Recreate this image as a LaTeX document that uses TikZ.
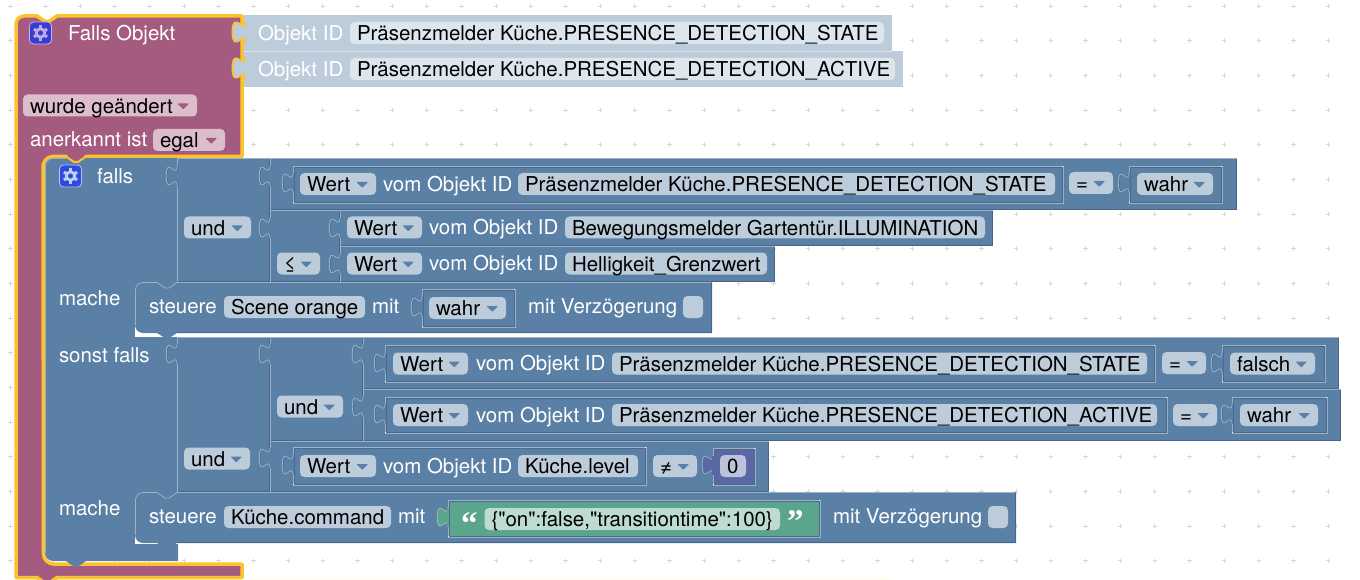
\documentclass[tikz,border=0pt]{standalone}
\usepackage{fontspec}
\usetikzlibrary{calc}
\setmainfont{TeX Gyre Heros}
\newfontfamily\plainhv{TeX Gyre Heros}
\newfontfamily\quotef{Liberation Serif}
\definecolor{bl}{HTML}{5B80A5}
\definecolor{bll}{HTML}{BDCCDB}
\definecolor{bld}{HTML}{49668A}
\definecolor{pur}{HTML}{A55B80}
\definecolor{purf}{HTML}{DBBDCC}
\definecolor{yel}{HTML}{FCC32C}
\definecolor{shf}{HTML}{DEE6ED}
\definecolor{grn}{HTML}{5BA58C}
\definecolor{grnf}{HTML}{BDDBD1}
\definecolor{num}{HTML}{5B67A5}
\definecolor{numf}{HTML}{BDC2DB}
\definecolor{gridc}{HTML}{D8D8D8}
\definecolor{icona}{HTML}{3A3AD4}
\definecolor{iconag}{HTML}{B9AEE6}
\definecolor{iconb}{HTML}{2E4ADF}
\definecolor{iconbg}{HTML}{B9D2F2}
\colorlet{bmid}{bll!65!bl}
\tikzset{
  txt/.style={anchor=base west,inner sep=0pt,outer sep=0pt,font=\fontsize{20.47}{24}\selectfont},
  wtxt/.style={txt,text=white},
  btxt/.style={txt,text=black},
  lightline/.style={draw=bmid,line width=0.9pt},
  darkline/.style={draw=bld,line width=1pt},
}
% tab path from (0,0) to (0,20), bulging left
\newcommand{\tabp}{(0,0) .. controls (0,13.3) and (-10.7,-10.7) .. (-10.7,10) .. controls (-10.7,30.7) and (0,6.7) .. (0,20)}
% outline-only socket
\newcommand{\sock}[2]{%
  \fill[bl] (#1-1.2,#2) rectangle (#1+1.2,#2+20);
  \draw[shift={(#1+0.9,#2)},bld!70!bl,line width=0.7pt] \tabp;
  \draw[shift={(#1,#2)},bmid,line width=0.8pt] \tabp;
}
% plain top-level block
\newcommand{\blk}[4]{%
  \fill[bl] (#1,#2) rectangle (#3,#4);
  \draw[darkline] (#1,#4-0.5) -- (#3-0.5,#4-0.5) -- (#3-0.5,#2);
  \draw[lightline] (#1+0.5,#4) -- (#1+0.5,#2+0.5) -- (#3,#2+0.5);
}
% inset value block
\newcommand{\val}[5]{%
  \fill[#5] (#1,#2) rectangle (#3,#4);
  \draw[bmid,line width=0.8pt] (#1,#2) rectangle (#3,#4);
  \draw[bld!85!bl,line width=0.8pt] (#1+1,#2+1) rectangle (#3-1,#4-1);
  \fill[white] (#3-0.7,#2-0.4) rectangle (#3+0.4,#2+0.7);
  \fill[white] (#1-0.4,#4-0.7) rectangle (#1+0.7,#4+0.4);
}
% field: name,x1,x2,y1,text
\newcommand{\fld}[6][bll]{%
  \fill[#1,rounded corners=4.5pt] (#3,#5) rectangle (#4,#5+22);
  \node[btxt] (#2) at (#3+7,#5+18.6) {#6};
}
% dropdown: fill,arrow colour,name,x1,x2,y1,text
\newcommand{\dd}[7]{%
  \fill[#1,rounded corners=4.5pt] (#4,#6) rectangle (#5,#6+22);
  \fill[#2,rounded corners=0.7pt] (#5-19.5,#6+9) -- (#5-8,#6+9) -- (#5-13.75,#6+15) -- cycle;
  \node[btxt] (#3) at (#4+7,#6+18.6) {#7};
}
\newcommand{\ddb}[5]{\dd{bll}{bl}{#1}{#2}{#3}{#4}{#5}}
\newcommand{\chk}[2]{\fill[bll,rounded corners=4.5pt] (#1,#2) rectangle (#1+20,#2+22);}
% settings icon
\newcommand{\gear}[4]{%
  \fill[#3,rounded corners=4pt,draw=white!65!#3,line width=0.8pt] (#1,#2) rectangle (#1+22,#2+22);
  \draw[#4,line width=2.8pt] (#1+11,#2+11) circle (4.2);
  \foreach \a in {30,90,...,330}{\draw[#4,line width=3pt] ($(#1+11,#2+11)+(\a:5)$) -- ($(#1+11,#2+11)+(\a:7.6)$);}
}
\begin{document}
\begin{tikzpicture}[x=1pt,y=-1pt]
\useasboundingbox (0,0) rectangle (1360,580);
\fill[white] (0,0) rectangle (1360,580);
% workspace grid
\foreach \i in {0,...,39}{\foreach \j in {0,...,16}{
  \draw[gridc,line width=0.8pt] (10.67+34.67*\i-2.2,6+34.67*\j) -- (10.67+34.67*\i+2.2,6+34.67*\j)
     (10.67+34.67*\i,6+34.67*\j-2.2) -- (10.67+34.67*\i,6+34.67*\j+2.2);
}}
\draw[yellow!12!white,line width=1pt] (244,579.5) -- (892,579.5);
% hat block
\filldraw[fill=pur,draw=yel,line width=3.5pt,line join=round]
  (16,24) arc[start angle=180,end angle=270,radius=8] -- (37,16) -- (45,21.3) -- (49,21.3) -- (57,16) -- (242,16)
  -- (242,156.5) -- (86,156.5) -- (78,162) -- (74,162) -- (66,156.5) -- (53,156.5)
  arc[start angle=270,end angle=180,radius=10] -- (43.5,554)
  arc[start angle=180,end angle=90,radius=10] -- (242,564) -- (242,577.5) -- (57,577.5) -- (49,583) -- (45,583) -- (37,577.5) -- (16,577.5) -- cycle;
% main blue block
\fill[bl] (45,166) arc[start angle=180,end angle=270,radius=8] -- (178,158) -- (178,561) -- (86,561) -- (78,566.5) -- (74,566.5) -- (66,561) -- (53,561) arc[start angle=90,end angle=180,radius=8] -- cycle;
\draw[bll!60!bl,line width=0.8pt] (45.5,553) -- (45.5,166) arc[start angle=180,end angle=270,radius=7.5] -- (66,158.5);
\filldraw[fill=pur,draw=yel,line width=2pt] (64.5,156) -- (66,156.5) -- (74,162) -- (78,162) -- (86,156.5) -- (87.5,156);
% hat labels
\gear{29.5}{22}{icona}{iconag}
\node[wtxt] (hat) at (68,40.7) {Falls Objekt};
\dd{purf}{pur}{chg}{23}{197}{94.5}{wurde geändert}
\node[wtxt] (ack) at (30,146.6) {anerkannt ist};
\dd{purf}{pur}{egal}{153}{225}{129}{egal}
% object id blocks
\foreach \yy/\xr in {15/892,51/903}{
  \fill[bll] (244,\yy) rectangle (\xr,\yy+36);
  \draw[shift={(244,\yy+7)},yel,line width=3.5pt] \tabp;
  \fill[shift={(244,\yy+7)},bll] \tabp -- cycle;
}
\draw[white!45!bll,line width=0.6pt] (244,51) -- (892,51);
\node[wtxt] (oa) at (258,40.3) {Objekt ID};
\node[wtxt] (ob) at (258,76.3) {Objekt ID};
\fld[shf]{oaf}{350}{884}{22}{Präsenzmelder Küche.PRESENCE\_DETECTION\_STATE}
\fld[shf]{obf}{350}{895}{58}{Präsenzmelder Küche.PRESENCE\_DETECTION\_ACTIVE}
% first condition group
\blk{177}{158}{270}{282}
\blk{270}{158}{1237}{210}
\blk{270}{210}{340}{282}
\blk{340}{210}{993}{246}
\blk{340}{246}{775}{282}
\val{293}{166}{1063}{203}{bl}
\val{1129}{166}{1222}{203}{bl}
\sock{177}{166}\sock{270}{166}\sock{293}{173}\sock{1129}{173}
\sock{270}{218}\sock{340}{218}\sock{340}{254}
\ddb{wa}{300}{376}{173}{Wert}
\node[wtxt] (vam) at (383,191.5) {vom Objekt ID};
\fld{faa}{518}{1055}{173}{Präsenzmelder Küche.PRESENCE\_DETECTION\_STATE}
\ddb{eqa}{1069}{1113}{172}{=}
\ddb{wahra}{1137}{1213}{173}{wahr}
\ddb{unda}{184}{251}{216.5}{und}
\ddb{lea}{277}{320}{252.5}{≤}
\ddb{wb}{347}{422}{216.5}{Wert}
\node[wtxt] (vbm) at (429,235) {vom Objekt ID};
\fld{fbb}{565}{985}{216.5}{Bewegungsmelder Gartentür.ILLUMINATION}
\ddb{wc}{347}{422}{252.5}{Wert}
\node[wtxt] (vcm) at (429,270.7) {vom Objekt ID};
\fld{fcc}{565}{767}{252.5}{Helligkeit\_Grenzwert}
% first statement
\fill[white] (135,324) rectangle (178,337);
\fill[white] (178,333) rectangle (720,337);
\fill[bl] (135,290) arc[start angle=180,end angle=270,radius=8] -- (712,282) -- (712,333) -- (177,333) -- (169,338) -- (165,338) -- (157,333) -- (143,333) arc[start angle=90,end angle=180,radius=8] -- cycle;
\draw[bmid,line width=0.8pt] (135.5,325) -- (135.5,290) arc[start angle=180,end angle=270,radius=7.5] -- (157,282.5) -- (165,288) -- (169,288) -- (177,282.5) -- (711,282.5);
\draw[darkline] (711.5,283) -- (711.5,332.5) -- (177,332.5);
\val{422}{289}{515}{327}{bl}
\sock{422}{297}
\node[wtxt] (sta) at (149,313) {steuere};
\fld{sc}{224}{365}{296}{Scene orange}
\node[wtxt] (mia) at (372,313) {mit};
\ddb{wahrb}{429}{506}{297}{wahr}
\node[wtxt] (mva) at (528,313) {mit Verzögerung};
\chk{683}{296}
% second condition group
\blk{177}{337}{270}{492}
\blk{270}{337}{363}{441}
\blk{363}{337}{1339}{389}
\blk{363}{389}{1341}{441}
\blk{270}{441}{769}{492}
\val{385}{345}{1155}{382}{bl}
\val{1222}{345}{1325}{382}{bl}
\val{385}{397}{1167}{433}{bl}
\val{1232}{397}{1327}{433}{bl}
\val{293}{447}{646}{485}{bl}
\sock{177}{344}\sock{270}{344}\sock{363}{344}\sock{385}{353}\sock{1222}{353}
\sock{363}{397}\sock{385}{404}\sock{1232}{404}
\sock{270}{448}\sock{293}{455}
\ddb{undb}{277}{343}{395.5}{und}
\ddb{undc}{184}{250}{447.5}{und}
\ddb{wd}{393}{468}{352.5}{Wert}
\node[wtxt] (vdm) at (476,370.7) {vom Objekt ID};
\fld{fdd}{612}{1147}{352.5}{Präsenzmelder Küche.PRESENCE\_DETECTION\_STATE}
\ddb{eqb}{1162}{1206}{352}{=}
\ddb{fals}{1230}{1315}{352.5}{falsch}
\ddb{we}{393}{468}{404}{Wert}
\node[wtxt] (vem) at (476,422) {vom Objekt ID};
\fld{fee}{612}{1157}{404}{Präsenzmelder Küche.PRESENCE\_DETECTION\_ACTIVE}
\ddb{eqc}{1173}{1217}{404}{=}
\ddb{wahrc}{1240}{1318}{404}{wahr}
\ddb{wf}{300}{376}{455}{Wert}
\node[wtxt] (vfm) at (383,473) {vom Objekt ID};
\fld{lev}{518}{638}{455}{Küche.level}
\ddb{neq}{653}{697}{455}{≠}
\val{713}{448}{755}{485}{num}
\filldraw[shift={(713,455)},fill=num,draw=bll!70!num,line width=0.7pt] \tabp -- cycle;
\fill[num] (712,455.5) rectangle (714,474.5);
\fld[numf]{zero}{720}{746}{455}{0}
% second statement
\fill[white] (135,534) rectangle (178,544);
\fill[bl] (135,500) arc[start angle=180,end angle=270,radius=8] -- (1016,492) -- (1016,543) -- (177,543) -- (169,548) -- (165,548) -- (157,543) -- (143,543) arc[start angle=90,end angle=180,radius=8] -- cycle;
\draw[bmid,line width=0.8pt] (135.5,535) -- (135.5,500) arc[start angle=180,end angle=270,radius=7.5] -- (157,492.5) -- (165,498) -- (169,498) -- (177,492.5) -- (1015,492.5);
\draw[darkline] (1015.5,493) -- (1015.5,542.5) -- (177,542.5);
\node[wtxt] (stb) at (149,523) {steuere};
\fld{cmd}{224}{391}{506}{Küche.command}
\node[wtxt] (mib) at (398,523) {mit};
\val{448}{500}{820}{537}{grn}
\filldraw[shift={(448,507)},fill=grn,draw=bll!70!grn,line width=0.7pt] \tabp -- cycle;
\fill[grn] (447,507.5) rectangle (449,526.5);
\fld[grnf]{str}{484.5}{780}{508}{\plainhv\{"on":false,"transitiontime":100\}}
\node[wtxt,font=\fontsize{33}{33}\selectfont\quotef\bfseries] (qo) at (461,534) {“};
\node[wtxt,font=\fontsize{33}{33}\selectfont\quotef\bfseries] (qc) at (787,532) {”};
\node[wtxt] (mvb) at (833,523) {mit Verzögerung};
\chk{988}{506}
% left labels
\gear{59.5}{165}{iconb}{iconbg}
\node[wtxt] (fa) at (97,183.7) {falls};
\node[wtxt] (ma) at (59,305) {mache};
\node[wtxt] (so) at (59,362) {sonst falls};
\node[wtxt] (mb) at (59,515) {mache};
\end{tikzpicture}
\end{document}
